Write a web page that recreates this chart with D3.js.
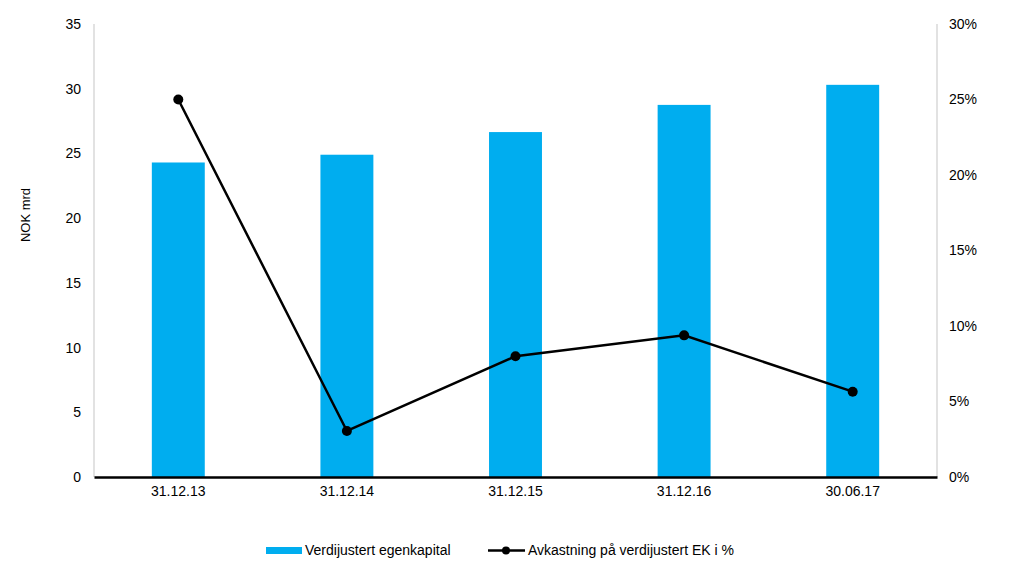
<!DOCTYPE html>
<html><head><meta charset="utf-8">
<script src="https://cdn.jsdelivr.net/npm/d3@7"></script>
<style>body{margin:0;background:#fff}svg{display:block}text{font-family:"Liberation Sans",Arial,sans-serif;fill:#000}</style>
</head><body><svg id="c" width="1024" height="577"></svg>
<script>
const categories = ["31.12.13","31.12.14","31.12.15","31.12.16","30.06.17"];
const equity = [24.3, 24.9, 26.65, 28.75, 30.3];
const returnPct = [25.0, 3.05, 8.0, 9.38, 5.65];
const leftTicks = [0,5,10,15,20,25,30,35];
const rightTicks = [0,5,10,15,20,25,30];
const barName = "Verdijustert egenkapital";
const lineName = "Avkastning på verdijustert EK i %";
const yTitle = "NOK mrd";

const svg = d3.select("#c");
const L = 94, R = 937, T = 24, B = 477;
const x = d3.scaleBand().domain(categories).range([L, R]).paddingInner(0.686).paddingOuter(0.343);
const yL = d3.scaleLinear().domain([0,35]).range([B, T]);
const yR = d3.scaleLinear().domain([0,30]).range([B, T]);

// axis lines
svg.append("line").attr("x1",L).attr("x2",L).attr("y1",T).attr("y2",B).attr("stroke","#d9d9d9").attr("stroke-width",1.5);
svg.append("line").attr("x1",R).attr("x2",R).attr("y1",T).attr("y2",B).attr("stroke","#d9d9d9").attr("stroke-width",1.5);

// left axis
const gl = svg.append("g").attr("transform",`translate(${L},0)`)
  .call(d3.axisLeft(yL).tickValues(leftTicks).tickSize(0).tickPadding(13));
gl.select(".domain").remove();
gl.selectAll("text").style("font-size","14px").style("font-family","Liberation Sans, Arial, sans-serif").attr("fill","#000");

const gr = svg.append("g").attr("transform",`translate(${R},0)`)
  .call(d3.axisRight(yR).tickValues(rightTicks).tickSize(0).tickPadding(12).tickFormat(d=>d+"%"));
gr.select(".domain").remove();
gr.selectAll("text").style("font-size","14px").style("font-family","Liberation Sans, Arial, sans-serif").attr("fill","#000");

// bars
svg.append("g").selectAll("rect").data(equity).join("rect")
  .attr("x",(d,i)=>x(categories[i])).attr("width",x.bandwidth())
  .attr("y",d=>yL(d)).attr("height",d=>B-yL(d)).attr("fill","#00adef");

// bottom axis
const gb = svg.append("g").attr("transform",`translate(0,${B})`)
  .call(d3.axisBottom(x).tickSize(0).tickPadding(9));
gb.select(".domain").attr("stroke","#000").attr("stroke-width",2.5);
gb.selectAll("text").style("font-size","14px").style("font-family","Liberation Sans, Arial, sans-serif").attr("fill","#000");

// line
const cx = i => x(categories[i]) + x.bandwidth()/2;
svg.append("path").datum(returnPct)
  .attr("d", d3.line().x((d,i)=>cx(i)).y(d=>yR(d)))
  .attr("fill","none").attr("stroke","#000").attr("stroke-width",2.5);
svg.append("g").selectAll("circle").data(returnPct).join("circle")
  .attr("cx",(d,i)=>cx(i)).attr("cy",d=>yR(d)).attr("r",5).attr("fill","#000");

// y title
svg.append("text").attr("transform","translate(30,215) rotate(-90)").attr("text-anchor","middle")
  .style("font-size","13px").text(yTitle);

// legend
const lg = svg.append("g");
lg.append("rect").attr("x",266).attr("y",547).attr("width",36).attr("height",7).attr("fill","#00adef");
lg.append("text").attr("x",305).attr("y",555).style("font-size","14px").text(barName);
lg.append("line").attr("x1",488).attr("x2",525).attr("y1",550.5).attr("y2",550.5).attr("stroke","#000").attr("stroke-width",2.5);
lg.append("circle").attr("cx",506).attr("cy",550.5).attr("r",4).attr("fill","#000");
lg.append("text").attr("x",528).attr("y",555).style("font-size","14px").text(lineName);
</script></body></html>
